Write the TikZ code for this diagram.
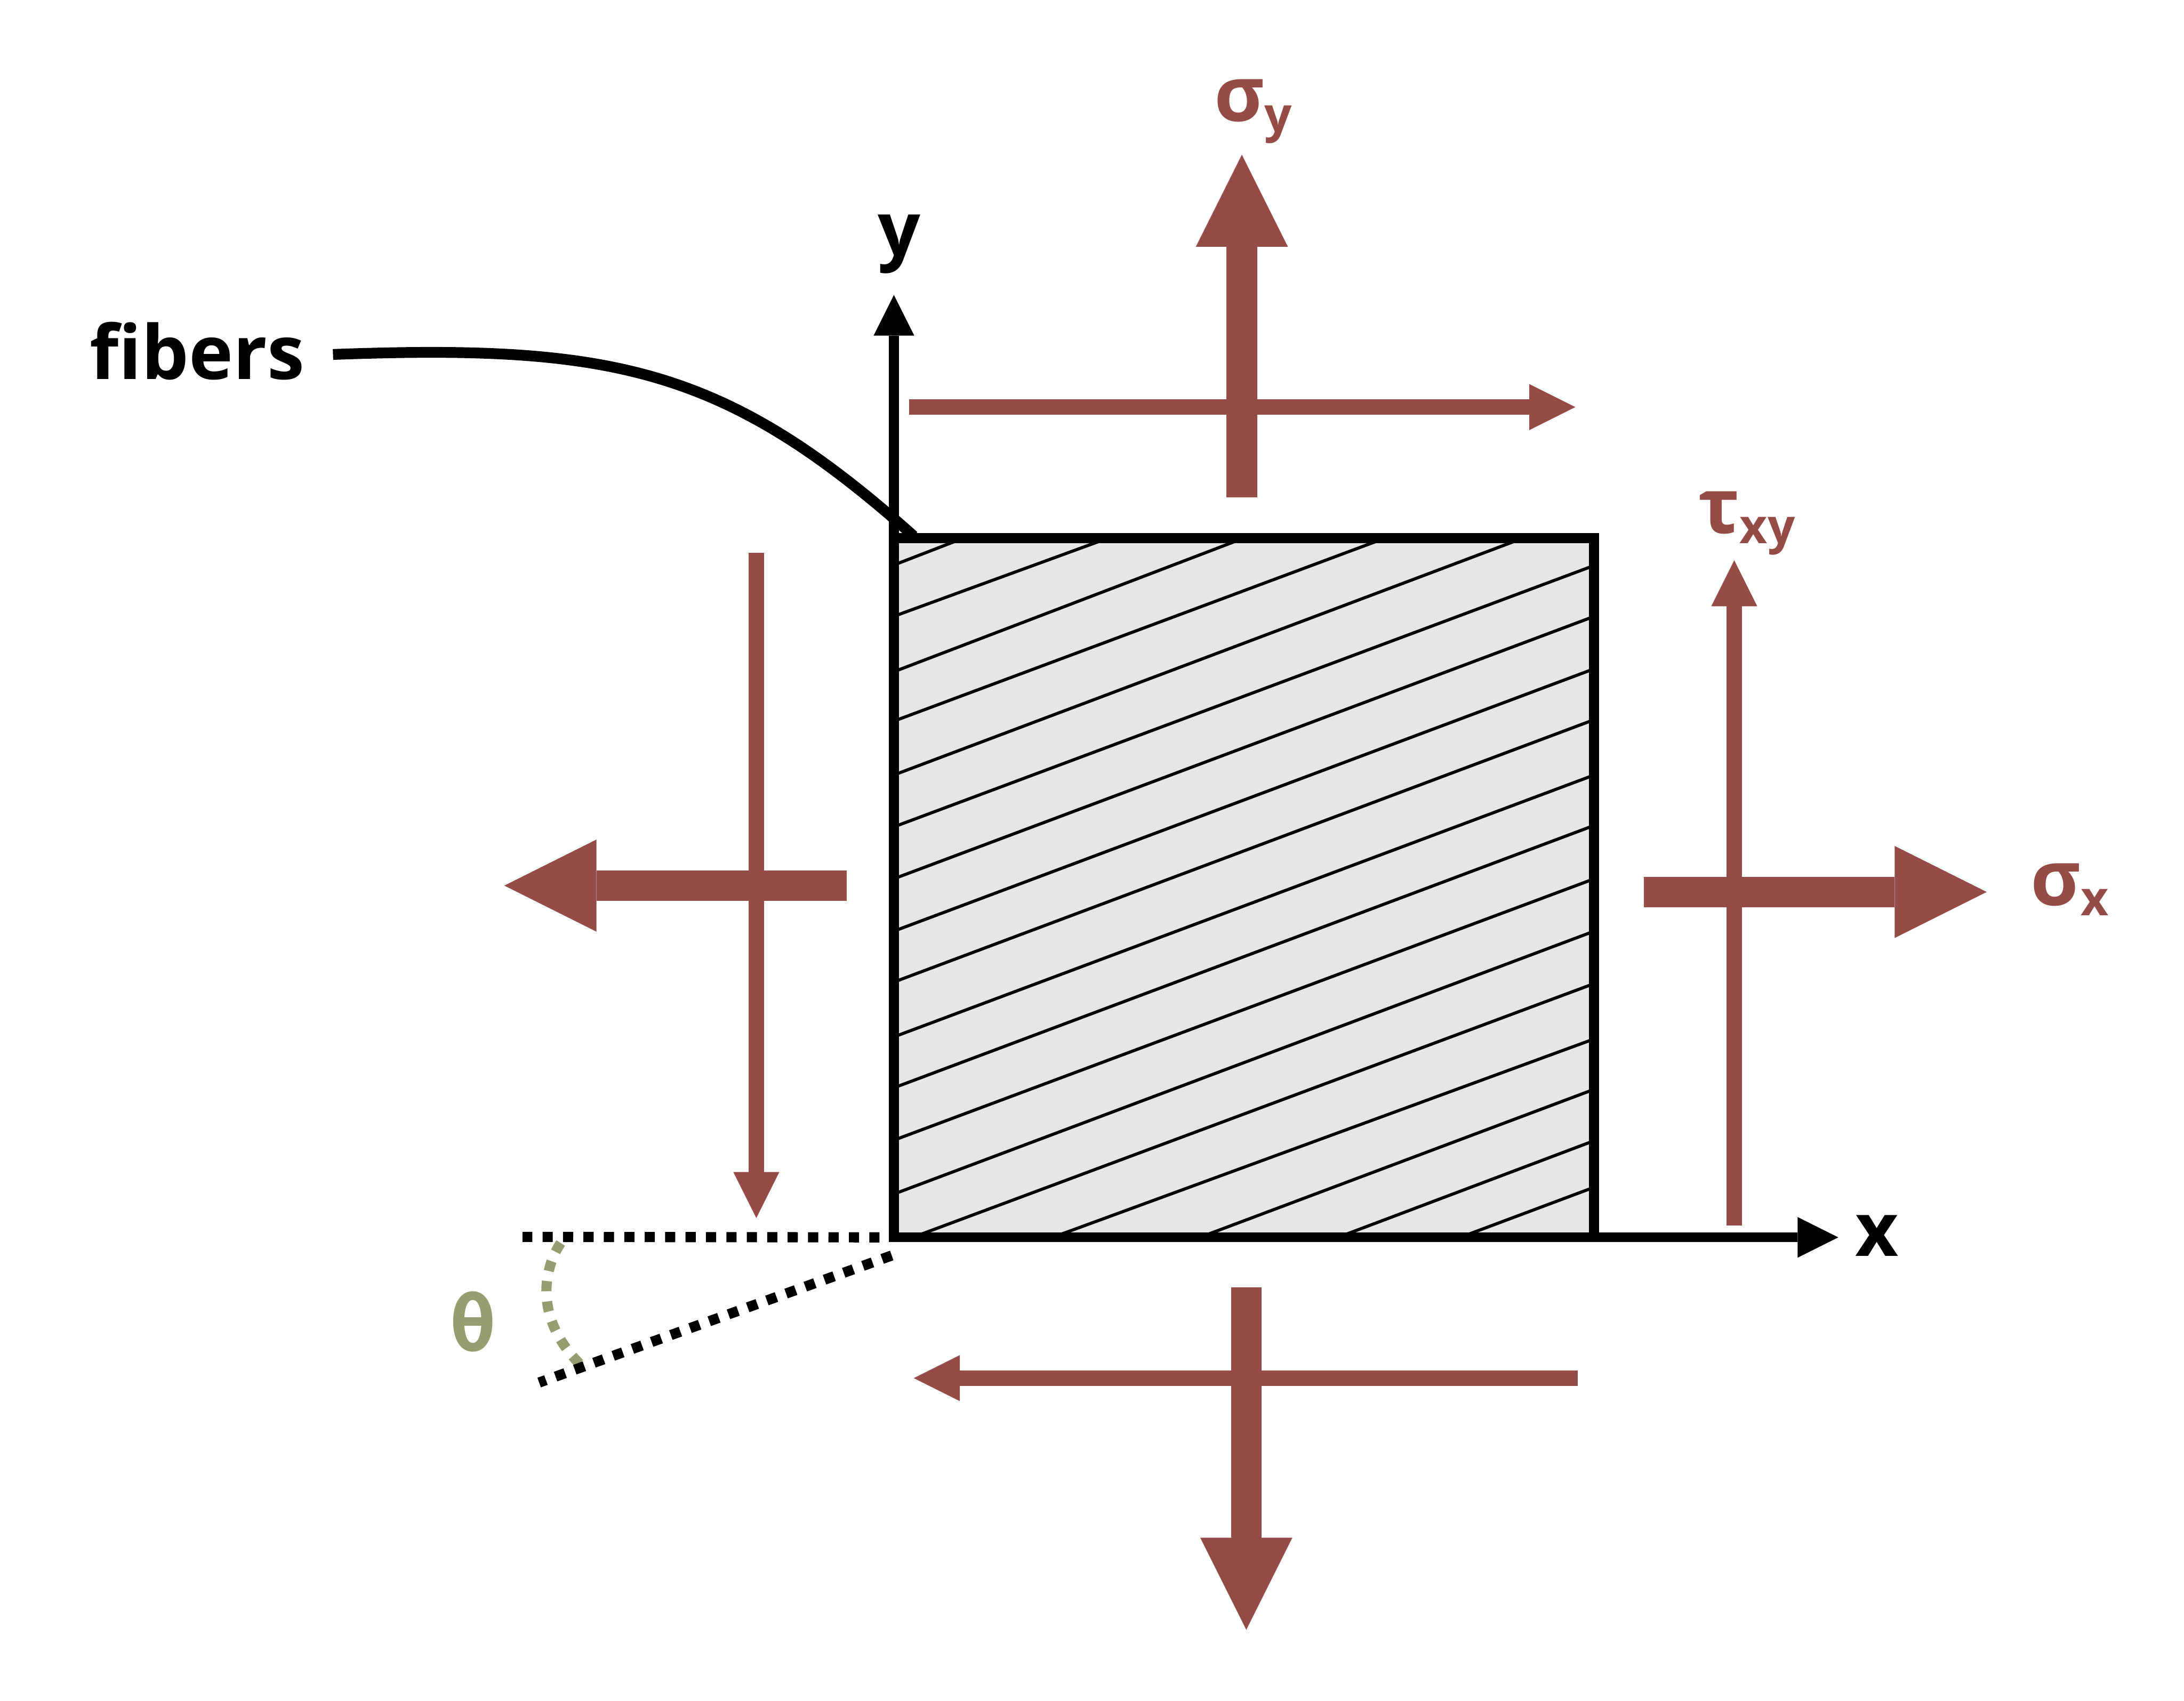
\documentclass[tikz,border=0pt]{standalone}
\usepackage{fontspec}
\setmainfont{Open Sans}
\newfontfamily\thetafont{DejaVu Sans Mono}
\usetikzlibrary{arrows.meta}
\definecolor{stressred}{HTML}{954B46}
\definecolor{anglegreen}{HTML}{969D6E}
\definecolor{platefill}{HTML}{E6E6E6}
\newcommand{\stresstext}[2]{#1\raisebox{-6pt}{\fontsize{28}{30}\selectfont #2}}
\tikzset{
    bigstress/.style = {stressred, line width=0.625cm, -{Triangle[length=1.88cm,width=1.88cm,line width=0pt]}},
    thinstress/.style = {stressred, line width=0.315cm, -{Triangle[length=0.94cm,width=0.94cm,line width=0pt]}},
    axis/.style = {line width=0.2cm, -{Triangle[length=0.83cm,width=0.83cm,line width=0pt]}},
    fiber/.style = {line width=0.063cm, shorten <=-0.1cm, shorten >=-0.1cm},
    dotline/.style = {line width=0.208cm, dash pattern=on 0.208cm off 0.209cm},
    blacklabel/.style = {font=\fontsize{43.5}{50}\bfseries\selectfont, anchor=base west, inner sep=0pt},
    stresslabel/.style = {text=stressred, font=\fontsize{44.5}{48}\bfseries\selectfont, anchor=base west, inner sep=0pt}
}
\begin{document}
\begin{tikzpicture}[y=-1cm]
    \useasboundingbox (0,0) rectangle (44.6,34.74);
    % Plate corners
    \coordinate (TL) at (18.255,10.99);
    \coordinate (BR) at (32.55,25.275);
    \coordinate (BL) at (18.255,25.275);
    \coordinate (yTip) at (18.255,6.025);
    \coordinate (xTip) at (37.54,25.275);
    \coordinate (fibersEnd) at (18.66,10.95);
    \coordinate (bottomEnd) at (10.67,25.265);
    \coordinate (slantEnd) at (11.01,28.24);
    \coordinate (slantStart) at (18.21,25.645);
    % Leader and axes
    \draw[axis] (TL) -- (yTip);
    \draw[axis] (BR) -- (xTip);
    \node[blacklabel] (fibers) at (1.83,7.745) {fibers};
    \draw[line width=0.22cm] (6.8,7.24) .. controls (12.5,7.03) and (14.8,7.5) .. (fibersEnd);
    % Plate and its fibers
    \fill[platefill] (TL) rectangle (BR);
    \foreach \ax/\ay/\bx/\by in {18.36/11.5/19.42/11.09, 18.36/12.55/22.36/11.09,
                                 18.36/13.68/25.14/11.09, 18.36/14.69/28.02/11.09,
                                 18.36/15.79/30.84/11.09, 18.36/16.85/32.45/11.59,
                                 18.36/17.91/32.45/12.63, 18.36/18.98/32.45/13.7,
                                 18.36/20.02/32.45/14.74, 18.36/21.14/32.45/15.87,
                                 18.36/22.18/32.45/16.9, 18.36/23.25/32.45/17.99,
                                 18.36/24.35/32.45/19.06, 18.92/25.17/32.45/20.13,
                                 21.78/25.17/32.45/21.26, 24.78/25.17/32.45/22.29,
                                 27.6/25.17/32.45/23.34, 30.1/25.17/32.45/24.29}
        \draw[fiber] (\ax,\ay) -- (\bx,\by);
    \draw[line width=0.2cm] (TL) rectangle (BR);
    % Angle
    \draw[anglegreen, dotline] (11.45,25.39) .. controls (11.05,26) and (10.95,27) .. (11.88,27.9);
    \draw[dotline] (BL) ++(-0.295,0) -- (bottomEnd);
    \draw[dotline] (slantStart) -- (slantEnd);
    \node[text=anglegreen, font=\thetafont\fontsize{45}{50}\bfseries\selectfont, inner sep=0pt] (theta) at (9.66,27) {θ};
    % Stress arrows
    \draw[thinstress] (18.57,8.315) -- (32.17,8.315);
    \draw[bigstress] (25.36,10.16) -- (25.36,3.16);
    \draw[thinstress] (32.22,28.15) -- (18.66,28.15);
    \draw[bigstress] (25.45,26.3) -- (25.45,33.29);
    \draw[thinstress] (15.445,11.29) -- (15.445,24.88);
    \draw[bigstress] (17.29,18.09) -- (10.3,18.09);
    \draw[thinstress] (35.415,25.03) -- (35.415,11.445);
    \draw[bigstress] (33.57,18.22) -- (40.57,18.22);
    % Labels
    \node[blacklabel] (yLabel) at (17.92,5.22) {y};
    \node[blacklabel] (xLabel) at (37.88,25.66) {x};
    \node[stresslabel] (sigmaY) at (24.79,2.48) {\stresstext{σ}{y}};
    \node[stresslabel] (tauXY) at (34.68,10.89) {\stresstext{τ}{xy}};
    \node[stresslabel] (sigmaX) at (41.46,18.49) {\stresstext{σ}{x}};
\end{tikzpicture}
\end{document}
